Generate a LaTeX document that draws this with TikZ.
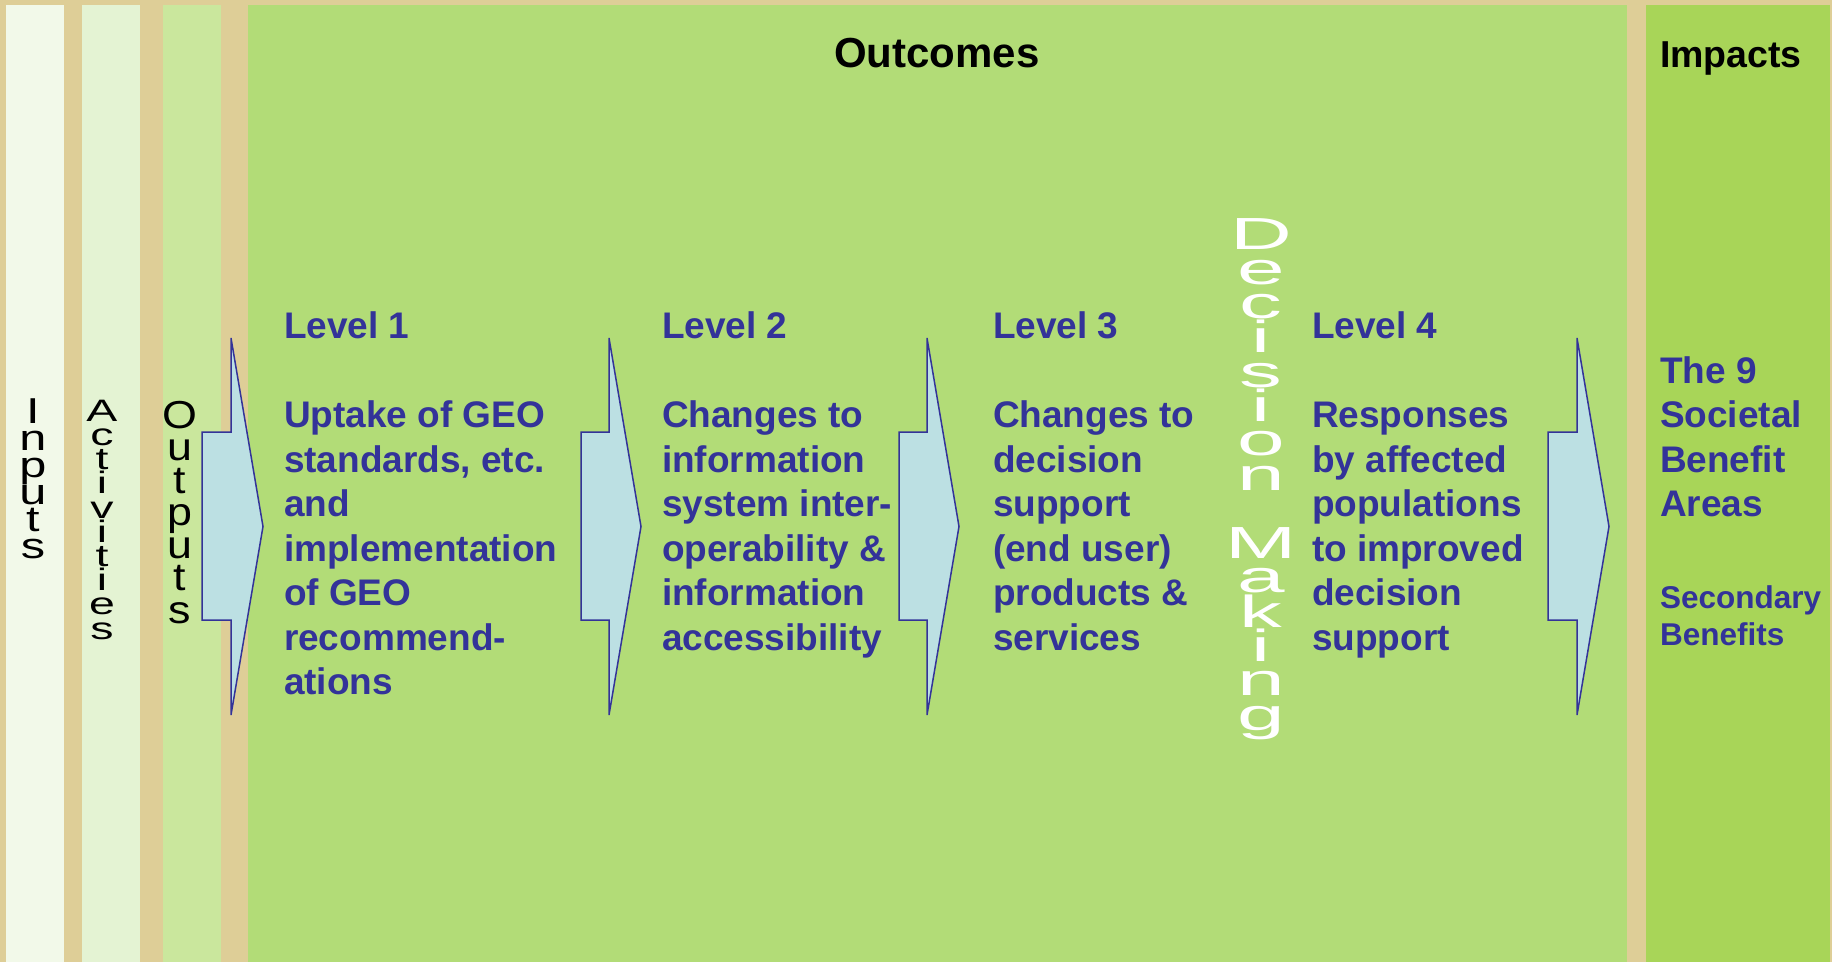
\documentclass[tikz,border=0pt]{standalone}
\usepackage{fontspec}
\setmainfont{Liberation Sans}
\newfontfamily\stackInp[FakeStretch=1.35]{Liberation Sans}
\newfontfamily\stackAct[FakeStretch=1.5]{Liberation Sans}
\newfontfamily\stackOut[FakeStretch=1.15]{Liberation Sans}
\newfontfamily\stackDec[FakeStretch=1.9]{Liberation Sans}
\definecolor{tanbg}{HTML}{DECE97}
\definecolor{colInp}{HTML}{F2F9E9}
\definecolor{colAct}{HTML}{E4F3D3}
\definecolor{colOut}{HTML}{CAE79D}
\definecolor{colOutc}{HTML}{B2DC77}
\definecolor{colImp}{HTML}{A8D558}
\definecolor{txtblue}{HTML}{333399}
\definecolor{arrfill}{HTML}{BCE0E3}
\begin{document}
\begin{tikzpicture}[x=1pt,y=-1pt,
  stackbox/.style={inner sep=0pt, outer sep=0pt, anchor=north, align=center},
  bodytext/.style={inner sep=0pt, outer sep=0pt, anchor=north west, align=left,
     text=txtblue, font=\bfseries\fontsize{37}{44.5}\selectfont},
  headtext/.style={inner sep=0pt, outer sep=0pt, text=black},
  flowarrow/.style={draw=txtblue, fill=arrfill, line width=1.5pt, line join=miter}]
% background
\fill[tanbg] (0,0) rectangle (1832,962);
\useasboundingbox (0,0) rectangle (1832,962);
% columns
\fill[colInp]  (6,5)    rectangle (64,962);
\fill[colAct]  (82,5)   rectangle (140,962);
\fill[colOut]  (163,5)  rectangle (221,962);
\fill[colOutc] (248,5)  rectangle (1627,962);
\fill[colImp]  (1646,5) rectangle (1830,962);
% stacked column labels
\node[stackbox, font={\stackInp\fontsize{36}{27}\selectfont\lineskiplimit=-100pt}] (inputs) at (33,399)
  {I\\n\\p\\u\\t\\s};
\node[stackbox, font={\stackAct\fontsize{31}{24.2}\selectfont\lineskiplimit=-100pt}] (activities) at (102,400)
  {A\\c\\t\\i\\v\\i\\t\\i\\e\\s};
\node[stackbox, font={\stackOut\fontsize{39}{32.5}\selectfont\lineskiplimit=-100pt}] (outputs) at (180,401)
  {O\\u\\t\\p\\u\\t\\s};
\node[stackbox, text=white, font={\stackDec\fontsize{45}{34.3}\selectfont\lineskiplimit=-100pt}] (decision) at (1261,219)
  {D\\e\\c\\i\\s\\i\\o\\n\\\mbox{}\\M\\a\\k\\i\\n\\g};
% headings
\node[headtext, anchor=base, font=\bfseries\fontsize{42}{50}\selectfont] (outcomes) at (937,67) {Outcomes};
\node[headtext, anchor=base west, font=\bfseries\fontsize{37.5}{45}\selectfont] (impacts) at (1660,67) {Impacts};
% arrows
\foreach \sx/\hx/\tx/\nm in {202/231/263/a1, 581/609/641/a2, 899/927/959/a3, 1548/1577/1609/a4}{
  \draw[flowarrow] (\sx,432) -- (\hx,432) -- (\hx,338) -- (\tx,526.5) -- (\hx,715) -- (\hx,620) -- (\sx,620) -- cycle;
}
% level texts
\node[bodytext] (lev1) at (284,312) {Level 1\\\mbox{}\\Uptake of GEO\\standards, etc.\\and\\implementation\\of GEO\\recommend-\\ations};
\node[bodytext] (lev2) at (662,312) {Level 2\\\mbox{}\\Changes to\\information\\system inter-\\operability \&\\information\\accessibility};
\node[bodytext] (lev3) at (993,312) {Level 3\\\mbox{}\\Changes to\\decision\\support\\(end user)\\products \&\\services};
\node[bodytext] (lev4) at (1312,312) {Level 4\\\mbox{}\\Responses\\by affected\\populations\\to improved\\decision\\support};
\node[bodytext] (sba) at (1660,356.5) {The 9\\Societal\\Benefit\\Areas};
\node[bodytext, font=\bfseries\fontsize{31.5}{37}\selectfont] (secb) at (1660,585.5) {Secondary\\Benefits};
\end{tikzpicture}
\end{document}
